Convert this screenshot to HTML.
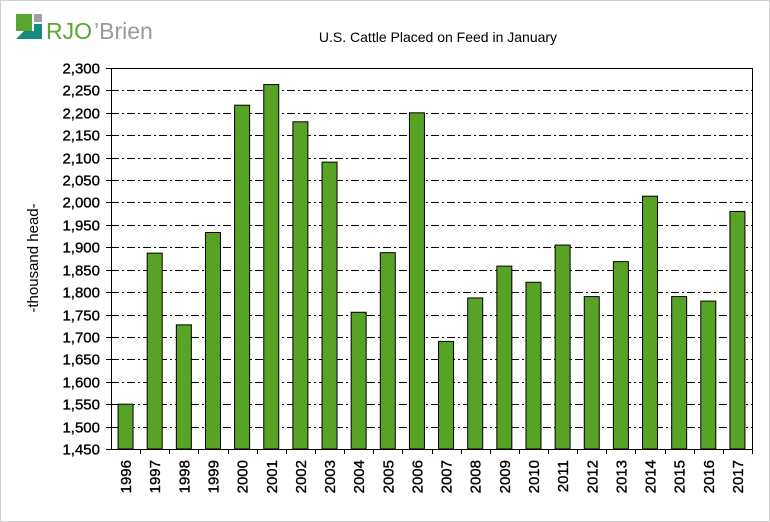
<!DOCTYPE html>
<html><head><meta charset="utf-8"><style>
body{margin:0;background:#fff}
#wrap{position:relative;width:770px;height:522px;overflow:hidden;font-family:"Liberation Sans",Arial,sans-serif}
</style></head><body>
<div id="wrap">
<svg id="chart" width="770" height="522">
<rect x="0.5" y="0.5" width="769" height="521" fill="#fff" stroke="#d0d0d0"/>
<g>
<rect x="16" y="14" width="16" height="17" fill="#5aa531"/>
<rect x="34" y="14" width="8" height="8" fill="#a0a0a0"/>
<polygon points="16,39 42,39 42,24 34,24 34,31 24,31" fill="#138a7c"/>
<text x="46" y="39" font-size="23" fill="#5aa531">RJO</text>
<text x="94" y="39" font-size="23" fill="#9a9a9a">’Brien</text>
</g>
<text x="438" y="42" font-size="14" text-anchor="middle" fill="#000">U.S. Cattle Placed on Feed in January</text>
<text transform="translate(38,258) rotate(-90)" font-size="15" text-anchor="middle">-thousand head-</text>
<g id="plot"></g>
</svg>
</div>
<script>
const categories=["1996","1997","1998","1999","2000","2001","2002","2003","2004","2005","2006","2007","2008","2009","2010","2011","2012","2013","2014","2015","2016","2017"];
const values=[1550,1887,1727,1933,2217,2263,2180,2090,1755,1888,2200,1690,1787,1858,1822,1905,1790,1868,2014,1790,1780,1980];
const yTicks=[1450,1500,1550,1600,1650,1700,1750,1800,1850,1900,1950,2000,2050,2100,2150,2200,2250,2300];
const L=111,R=752,T=68,B=449,yMin=1450,yMax=2300;
const NS="http://www.w3.org/2000/svg";
const g=document.getElementById('plot');
function y(v){return B-(v-yMin)/(yMax-yMin)*(B-T);}
const slot=(R-L)/categories.length;
function x(i){return L+slot*(i+0.5);}
function mk(t,a){const e=document.createElementNS(NS,t);for(const k in a)e.setAttribute(k,a[k]);g.appendChild(e);return e;}
yTicks.forEach(v=>{
 const yy=Math.round(y(v))+0.5;
 if(v>yMin&&v<yMax){const l=mk('line',{x1:L,x2:R,y1:yy,y2:yy,stroke:'#000','stroke-width':1,'stroke-dasharray':'8,3,2,3'});
 
 }
 const t=mk('line',{x1:L-5,x2:L,y1:yy,y2:yy,stroke:'#000'});
 
 
 const lb=mk('text',{x:L-11,y:yy+5,'font-size':15,'text-anchor':'end',stroke:'#000','stroke-width':0.35});
 lb.textContent=v.toLocaleString('en-US');
 
 
});
const fr=mk('rect',{x:L+0.5,y:T+0.5,width:R-L,height:B-T,fill:'none',stroke:'#000'});


categories.forEach((c,i)=>{
 const bw=15;
 const b=mk('rect',{x:x(i)-bw/2,y:y(values[i]),width:bw,height:B-y(values[i]),fill:'#58a325',stroke:'#000','stroke-width':1});
 
 
 const tx=Math.round(L+slot*(i+1))+0.5;
 const tk=mk('line',{x1:tx,x2:tx,y1:B,y2:B+5,stroke:'#000'});
 
 
 const lb=mk('text',{transform:`translate(${x(i)+5.5},${B+11}) rotate(-90)`,'font-size':15,'text-anchor':'end',stroke:'#000','stroke-width':0.35});
 lb.textContent=c;
 
 
});
</script>
</body></html>
